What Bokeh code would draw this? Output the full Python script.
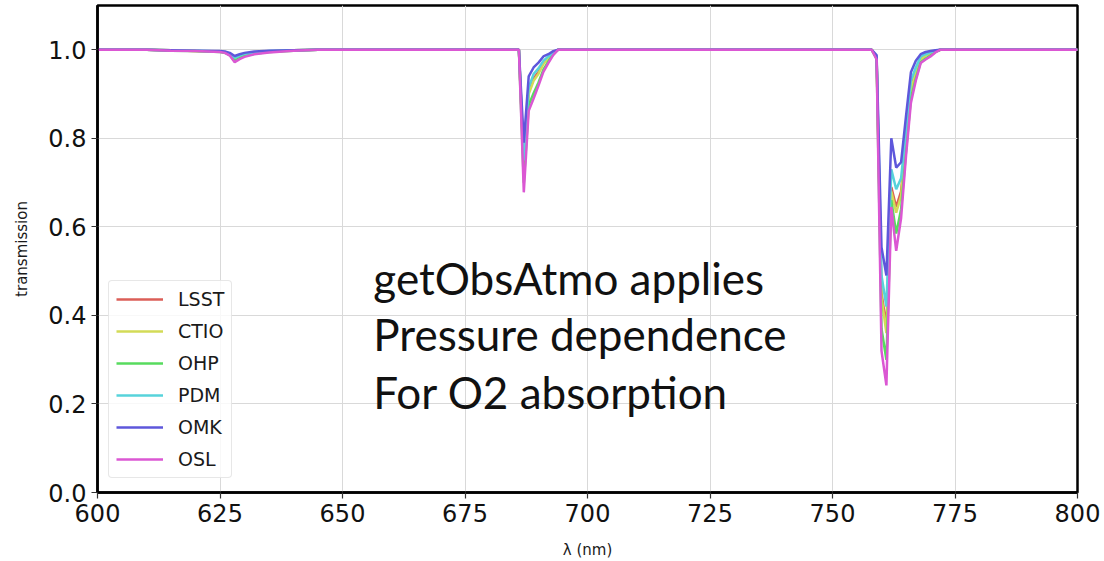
from bokeh.plotting import figure
from bokeh.models import Label, Range1d, FixedTicker
from bokeh.embed import file_html
from bokeh.resources import INLINE

# wavelength grid (nm)
wavelength = [600, 610, 615, 620, 625, 626, 627, 628, 629, 630, 632, 635, 640, 645,
              686, 687, 688, 689, 690, 691, 692, 693, 694,
              758, 759, 760, 761, 762, 763, 764, 765, 766, 767, 768, 769, 770, 771, 772,
              800]

# transmission per observatory site
lsst = [1.0, 1.0, 0.999, 0.997, 0.996, 0.994, 0.990, 0.980, 0.985, 0.990, 0.993, 0.996, 0.999, 1.0,
        1.0, 0.740, 0.905, 0.935, 0.950, 0.970, 0.982, 0.993, 1.0,
        1.0, 0.983, 0.450, 0.375, 0.690, 0.645, 0.680, 0.800, 0.915, 0.950, 0.980, 0.988, 0.992, 0.997, 1.0,
        1.0]
ctio = [1.0, 1.0, 0.999, 0.997, 0.996, 0.994, 0.990, 0.979, 0.984, 0.989, 0.993, 0.996, 0.999, 1.0,
        1.0, 0.735, 0.900, 0.930, 0.946, 0.968, 0.980, 0.992, 1.0,
        1.0, 0.982, 0.440, 0.360, 0.680, 0.632, 0.670, 0.790, 0.910, 0.948, 0.978, 0.987, 0.991, 0.997, 1.0,
        1.0]
ohp = [1.0, 1.0, 0.998, 0.997, 0.995, 0.993, 0.988, 0.975, 0.981, 0.986, 0.991, 0.995, 0.998, 1.0,
       1.0, 0.700, 0.875, 0.902, 0.926, 0.955, 0.973, 0.990, 1.0,
       1.0, 0.980, 0.370, 0.300, 0.660, 0.585, 0.640, 0.770, 0.890, 0.935, 0.972, 0.980, 0.987, 0.995, 1.0,
       1.0]
pdm = [1.0, 1.0, 0.999, 0.998, 0.996, 0.995, 0.991, 0.982, 0.987, 0.991, 0.994, 0.997, 0.999, 1.0,
       1.0, 0.750, 0.915, 0.945, 0.958, 0.975, 0.985, 0.994, 1.0,
       1.0, 0.985, 0.490, 0.420, 0.730, 0.685, 0.710, 0.820, 0.930, 0.960, 0.985, 0.990, 0.994, 0.998, 1.0,
       1.0]
omk = [1.0, 1.0, 0.999, 0.998, 0.997, 0.996, 0.993, 0.986, 0.990, 0.993, 0.996, 0.998, 0.999, 1.0,
       1.0, 0.790, 0.940, 0.960, 0.971, 0.985, 0.990, 0.997, 1.0,
       1.0, 0.988, 0.554, 0.490, 0.800, 0.734, 0.746, 0.850, 0.949, 0.975, 0.990, 0.995, 0.997, 0.999, 1.0,
       1.0]
osl = [1.0, 1.0, 0.998, 0.997, 0.995, 0.993, 0.987, 0.972, 0.979, 0.984, 0.990, 0.994, 0.998, 1.0,
       1.0, 0.678, 0.862, 0.890, 0.919, 0.950, 0.970, 0.988, 1.0,
       1.0, 0.978, 0.320, 0.242, 0.645, 0.546, 0.620, 0.760, 0.880, 0.930, 0.970, 0.978, 0.985, 0.994, 1.0,
       1.0]

sites = ["LSST", "CTIO", "OHP", "PDM", "OMK", "OSL"]
series = [lsst, ctio, ohp, pdm, omk, osl]
colors = ["#db5e57", "#d3db57", "#57db5e", "#57d3db", "#5e57db", "#db57d3"]

x_ticks = [600, 625, 650, 675, 700, 725, 750, 775, 800]
y_ticks = [0.0, 0.2, 0.4, 0.6, 0.8, 1.0]

p = figure(width=1104, height=561, output_backend="svg", toolbar_location=None,
           x_range=Range1d(600, 800), y_range=Range1d(0.0, 1.1),
           min_border_left=97, min_border_right=27, min_border_top=5, min_border_bottom=69)

for name, vals, col in zip(sites, series, colors):
    p.line(wavelength, vals, line_color=col, line_width=2.5, legend_label=name)

# axes
p.xaxis.ticker = FixedTicker(ticks=x_ticks)
p.yaxis.ticker = FixedTicker(ticks=y_ticks)
p.xaxis.axis_label = "λ (nm)"
p.yaxis.axis_label = "transmission"
for ax in (p.xaxis, p.yaxis):
    ax.major_label_text_font = "DejaVu Sans"
    ax.major_label_text_font_size = "24px"
    ax.major_label_text_color = "#111111"
    ax.axis_label_text_font = "DejaVu Sans"
    ax.axis_label_text_font_size = "15px"
    ax.axis_label_text_font_style = "normal"
    ax.axis_label_text_color = "#1a1a1a"
    ax.axis_line_color = "black"
    ax.axis_line_width = 2.5
    ax.major_tick_line_color = "#333333"
    ax.major_tick_line_width = 1.2
    ax.major_tick_in = 0
    ax.major_tick_out = 6
    ax.minor_tick_line_color = None
    ax.major_label_standoff = 5
p.xaxis.axis_label_standoff = 16
p.yaxis.axis_label_standoff = 14
p.yaxis.major_label_overrides = {0.0: "0.0", 0.2: "0.2", 0.4: "0.4", 0.6: "0.6", 0.8: "0.8", 1.0: "1.0"}

p.outline_line_color = "black"
p.outline_line_width = 2.5
p.xgrid.grid_line_color = "#d9d9d9"
p.ygrid.grid_line_color = "#d9d9d9"
p.xgrid.grid_line_width = 1
p.ygrid.grid_line_width = 1
p.background_fill_color = "white"
p.border_fill_color = "white"

# legend
leg = p.legend[0]
leg.location = (11, 14)
leg.label_text_font = "DejaVu Sans"
leg.label_text_font_size = "19px"
leg.label_text_color = "#1a1a1a"
leg.label_height = 22
leg.glyph_height = 22
leg.glyph_width = 47
leg.label_standoff = 15
leg.spacing = 10
leg.padding = 7
leg.margin = 0
leg.border_line_color = "#d0d0d0"
leg.border_line_width = 1
leg.border_radius = 4
leg.background_fill_color = "white"
leg.background_fill_alpha = 0.8

# annotation text
note_lines = ["getObsAtmo applies", "Pressure dependence", "For O2 absorption"]
note_y = [0.484, 0.357, 0.227]
for txt, yy in zip(note_lines, note_y):
    p.add_layout(Label(x=656.3, y=yy, text=txt, text_font="Lato", text_font_size="44px",
                       text_color="#111111", text_baseline="alphabetic", text_align="left"))

open("out.html", "w").write(file_html(p, INLINE))
